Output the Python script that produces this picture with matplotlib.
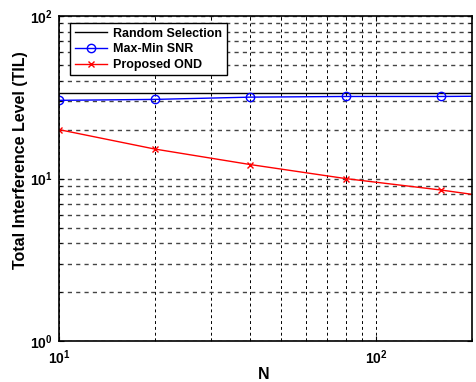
import matplotlib.pyplot as plt
import numpy as np

# Dados
N = [10, 20, 40, 80, 160, 200]
random_sel = [33.4, 33.4, 33.4, 33.4, 33.4, 33.4]
maxmin_snr = [30.3, 30.7, 31.7, 32.0, 32.0, 32.1]
proposed_ond = [20.0, 15.2, 12.2, 10.0, 8.5, 8.0]

xticks = [10, 100]
xticklabels = [r'$\mathbf{10^{1}}$', r'$\mathbf{10^{2}}$']
yticks = [1, 10, 100]
yticklabels = [r'$\mathbf{10^{0}}$', r'$\mathbf{10^{1}}$', r'$\mathbf{10^{2}}$']

plt.rcParams['font.family'] = ['Liberation Sans', 'DejaVu Sans']
plt.rcParams['mathtext.fontset'] = 'custom'
plt.rcParams['mathtext.bf'] = 'Liberation Sans:bold'

fig = plt.figure(figsize=(4.77, 3.82), dpi=100)
ax = fig.add_axes([0.124, 0.107, 0.8655, 0.851])

ax.plot(N, random_sel, color='black', lw=1.0, label='Random Selection')
ax.plot(N, maxmin_snr, color='blue', lw=1.0, marker='o', markersize=6,
        markerfacecolor='none', markeredgewidth=1.0, markevery=[0, 1, 2, 3, 4],
        label='Max-Min SNR')
ax.plot(N, proposed_ond, color='red', lw=1.0, marker='x', markersize=4,
        markeredgewidth=1.0, markevery=[0, 1, 2, 3, 4], label='Proposed OND')

ax.set_xscale('log')
ax.set_yscale('log')
ax.set_xlim(10, 200)
ax.set_ylim(1, 100)

ax.set_xticks(xticks)
ax.set_xticklabels(xticklabels, fontsize=10)
ax.set_yticks(yticks)
ax.set_yticklabels(yticklabels, fontsize=10)
ax.tick_params(which='both', direction='in', top=True, right=True)
ax.tick_params(which='major', pad=5)
ax.tick_params(which='minor', labelbottom=False, labelleft=False)

# grade principal e secundária tracejada
ax.grid(True, which='both', axis='x', color='black', linestyle=(0, (3, 3)), lw=0.7)
ax.grid(True, which='both', axis='y', color='#444444', linestyle=(0, (3, 3)), lw=1.0)

for s in ax.spines.values():
    s.set_linewidth(1.2)

ax.set_xlabel('N', fontsize=11.5, fontweight='bold')
ax.xaxis.set_label_coords(0.495, -0.08)
ax.set_ylabel('Total Interference Level (TIL)', fontsize=11.5, fontweight='bold')
ax.yaxis.set_label_coords(-0.075, 0.557)

leg = ax.legend(loc='upper left', bbox_to_anchor=(0.027, 0.978), fancybox=False,
                edgecolor='black', framealpha=1, prop={'weight': 'bold', 'size': 9},
                borderaxespad=0, handlelength=2.6, labelspacing=0.3, borderpad=0.35,
                handletextpad=0.5)
leg.get_frame().set_linewidth(1.0)

plt.savefig('out.png', dpi=100)
